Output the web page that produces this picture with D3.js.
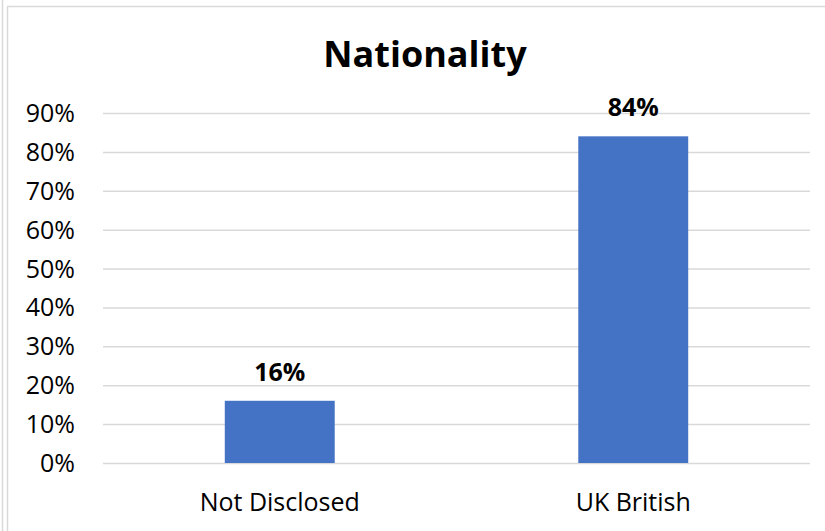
<!DOCTYPE html>
<html>
<head>
<meta charset="utf-8">
<script src="https://cdn.jsdelivr.net/npm/d3@7"></script>
<style>
  html, body { margin: 0; padding: 0; background: #fff; }
  svg { display: block; }
  text { font-family: "Open Sans", "Noto Sans", sans-serif; }
</style>
</head>
<body>
<svg id="chart" width="825" height="531"></svg>
<script>
const title = "Nationality";
const categories = ["Not Disclosed", "UK British"];
const values = [16, 84];
const tickValues = [0, 10, 20, 30, 40, 50, 60, 70, 80, 90];

const W = 825, H = 531;
const svg = d3.select("#chart");

// frame lines
svg.append("line").attr("x1", 2.5).attr("x2", 2.5).attr("y1", 0).attr("y2", H)
  .attr("stroke", "#d9d9d9").attr("stroke-width", 1.5);
svg.append("line").attr("x1", 7.5).attr("x2", 7.5).attr("y1", 6).attr("y2", H)
  .attr("stroke", "#d9d9d9").attr("stroke-width", 1.5);
svg.append("line").attr("x1", 7).attr("x2", W).attr("y1", 6.5).attr("y2", 6.5)
  .attr("stroke", "#d9d9d9").attr("stroke-width", 1.5);

const plot = { left: 103, right: 810, top: 113, bottom: 463 };

const x = d3.scaleBand().domain(categories).range([plot.left, plot.right]).padding(0);
const y = d3.scaleLinear().domain([0, 90]).range([plot.bottom, plot.top]);

// title
svg.append("text")
  .attr("x", 425).attr("y", 66.5)
  .attr("text-anchor", "middle")
  .attr("font-size", 36).attr("font-weight", 700)
  .attr("fill", "#000")
  .text(title);

// gridlines
const yAxis = d3.axisLeft(y).tickValues(tickValues).tickFormat(d => d + "%")
  .tickSize(-(plot.right - plot.left)).tickPadding(28);
const gy = svg.append("g").attr("transform", `translate(${plot.left},0)`).call(yAxis);
gy.select(".domain").remove();
gy.selectAll(".tick line").attr("stroke", "#d9d9d9").attr("stroke-width", 1.5);
gy.selectAll(".tick text")
  .attr("font-size", 25).attr("fill", "#000")
  .attr("font-family", "'Open Sans', sans-serif")
  .attr("dy", null).attr("y", 8.5);

// bars
const barW = x.bandwidth() * 0.311;
svg.append("g").selectAll("rect").data(categories).join("rect")
  .attr("x", (d) => x(d) + x.bandwidth() / 2 - barW / 2)
  .attr("width", barW)
  .attr("y", (d, i) => y(values[i]))
  .attr("height", (d, i) => y(0) - y(values[i]))
  .attr("fill", "#4472c4");

// data labels
svg.append("g").selectAll("text").data(categories).join("text")
  .attr("x", d => x(d) + x.bandwidth() / 2)
  .attr("y", (d, i) => y(values[i]) - 20)
  .attr("text-anchor", "middle")
  .attr("font-size", 25).attr("font-weight", 700).attr("fill", "#000")
  .text((d, i) => values[i] + "%");

// x axis labels
const xAxis = d3.axisBottom(x).tickSize(0).tickPadding(0);
const gx = svg.append("g").attr("transform", `translate(0,${plot.bottom})`).call(xAxis);
gx.select(".domain").remove();
gx.selectAll(".tick text")
  .attr("font-size", 25).attr("fill", "#000")
  .attr("font-family", "'Open Sans', sans-serif")
  .attr("dy", null).attr("y", 47.5);
</script>
</body>
</html>
